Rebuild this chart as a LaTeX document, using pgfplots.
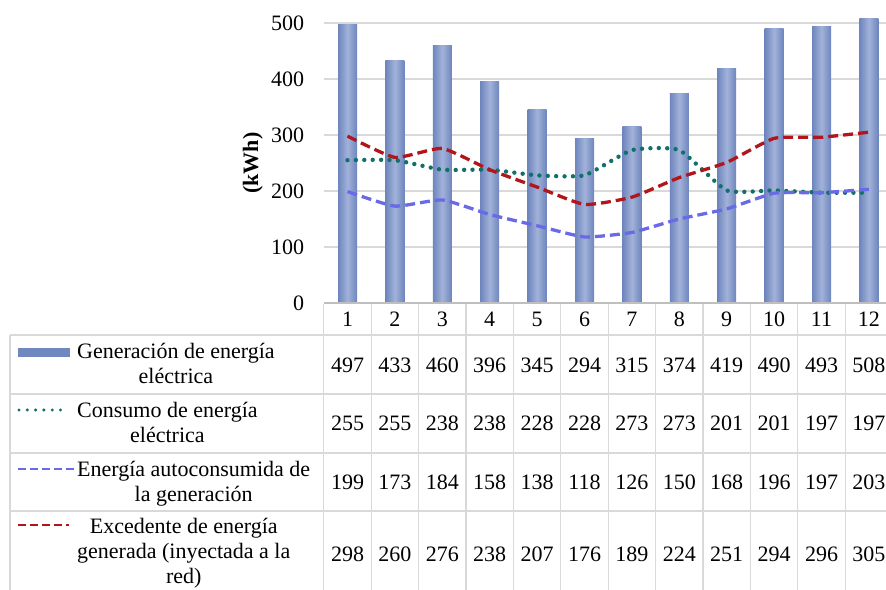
\documentclass[border=0pt]{standalone}
\usepackage{pgfplots}
\usepackage{pgfplotstable}
\pgfplotsset{compat=1.18}
\usepackage{fontspec}
\setmainfont{Liberation Serif}
\newcommand\ff{\fontsize{22bp}{25bp}\selectfont}

\definecolor{barEdge}{RGB}{110,133,189}
\definecolor{barMid}{RGB}{162,178,217}
\definecolor{barKey}{RGB}{112,136,192}
\definecolor{consumo}{RGB}{18,112,106}
\definecolor{autocons}{RGB}{106,106,232}
\definecolor{excedente}{RGB}{178,22,26}
\definecolor{rejilla}{RGB}{217,217,217}
\definecolor{eje}{RGB}{191,191,191}

% Energía mensual (kWh)
\pgfplotstableread{
mes gen cons auto exc
1  497 255 199 298
2  433 255 173 260
3  460 238 184 276
4  396 238 158 238
5  345 228 138 207
6  294 228 118 176
7  315 273 126 189
8  374 273 150 224
9  419 201 168 251
10 490 201 196 294
11 493 197 197 296
12 508 197 203 305
}\datos

\begin{document}
\begin{tikzpicture}[font=\ff]
\useasboundingbox (0bp,0bp) rectangle (886bp,590bp);
\begin{axis}[
  at={(323.8bp,287bp)}, anchor=south west,
  scale only axis, width=568.8bp, height=280bp,
  xmin=0.5, xmax=12.5, ymin=0, ymax=500,
  clip=false,
  axis line style={draw=none},
  xtick={1,...,12}, major tick length=0pt,
  xticklabel style={anchor=center, yshift=-16.5bp, inner sep=0pt},
  ytick={0,100,...,500},
  yticklabel style={anchor=east, inner sep=0pt, xshift=-19.5bp},
  ymajorgrids, grid style={rejilla, line width=1.3bp},
  tick label style={font=\ff},
  /pgf/number format/assume math mode=true,
  ylabel={\bfseries (kWh)},
  every axis y label/.style={at={(rel axis cs:-0.1248,0.5)}, rotate=90, anchor=center, font=\ff},
]
% one bar per month, each with its own horizontal gradient
\pgfplotsinvokeforeach{1,...,12}{
  \addplot[ybar, bar width=19bp, bar shift=0pt, draw=none,
    left color=barEdge, right color=barEdge, middle color=barMid,
    restrict x to domain=#1:#1]
    table[x=mes,y=gen]{\datos};
}
\addplot[consumo, line width=4.4bp, smooth, tension=0.3, dash pattern=on 0bp off 8.4bp, line cap=round]
  table[x=mes,y=cons]{\datos};
\addplot[autocons, line width=3.3bp, smooth, tension=0.3, dash pattern=on 10bp off 5bp]
  table[x=mes,y=auto]{\datos};
\addplot[excedente, line width=3.3bp, smooth, tension=0.3, dash pattern=on 10bp off 5bp]
  table[x=mes,y=exc]{\datos};
\end{axis}

\begin{scope}[x=1bp,y=1bp]
% tabla de datos bajo el eje
\draw[eje, line width=2.2bp] (323.8,287) -- (892.6,287);
\foreach \k in {0,...,12}
  \draw[rejilla, line width=1.3bp] ({323.8+\k*47.4},286) -- ({323.8+\k*47.4},-10);
\foreach \yy in {255,196,137,79}
  \draw[rejilla, line width=1.3bp] (10,\yy) -- (892.6,\yy);
\draw[rejilla, line width=1.3bp] (10,255) -- (10,-10);

% claves de la leyenda
\fill[barKey] (18,233) rectangle (70,242);
\draw[consumo, line width=3.4bp, dash pattern=on 0bp off 8.3bp, line cap=round] (19,180) -- (66,180);
\draw[autocons, line width=2.8bp, dash pattern=on 8bp off 4bp] (18,121) -- (74,121);
\draw[excedente, line width=2.8bp, dash pattern=on 8bp off 4bp] (18,65) -- (69,65);

\node[anchor=base west, inner sep=0pt] at (77,232)
  {\begin{tabular}[t]{@{}c@{}}Generación de energía\\eléctrica\end{tabular}};
\node[anchor=base west, inner sep=0pt] at (77,173)
  {\begin{tabular}[t]{@{}c@{}}Consumo de energía\\eléctrica\end{tabular}};
\node[anchor=base west, inner sep=0pt] at (77,114)
  {\begin{tabular}[t]{@{}c@{}}Energía autoconsumida de\\la generación\end{tabular}};
\node[anchor=base west, inner sep=0pt] at (77,57)
  {\begin{tabular}[t]{@{}c@{}}Excedente de energía\\generada (inyectada a la\\red)\end{tabular}};

% valores de la tabla
\foreach \i in {0,...,11} {
  \pgfmathsetmacro\xc{323.8+(\i+0.5)*47.4}
  \pgfplotstablegetelem{\i}{gen}\of\datos
  \node at (\xc,225) {\pgfplotsretval};
  \pgfplotstablegetelem{\i}{cons}\of\datos
  \node at (\xc,166.5) {\pgfplotsretval};
  \pgfplotstablegetelem{\i}{auto}\of\datos
  \node at (\xc,108) {\pgfplotsretval};
  \pgfplotstablegetelem{\i}{exc}\of\datos
  \node at (\xc,36) {\pgfplotsretval};
}
\end{scope}
\end{tikzpicture}
\end{document}
